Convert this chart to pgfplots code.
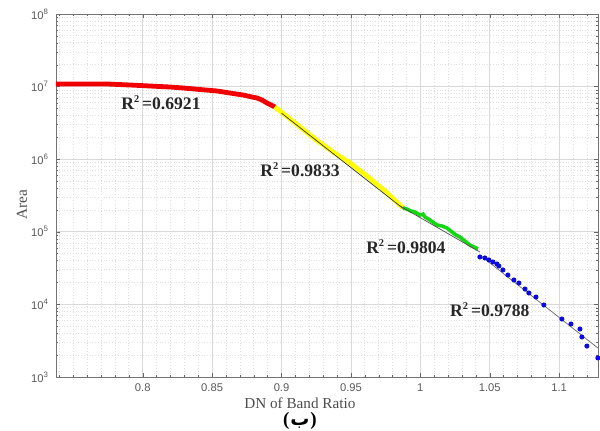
\documentclass[border=0pt]{standalone}
\usepackage{fontspec}
\setmainfont{Liberation Serif}
\setsansfont{Liberation Sans}
\newfontfamily\arabicfont[Script=Arabic]{DejaVu Sans}
\TeXXeTstate=1
\usepackage{pgfplots}
\pgfplotsset{compat=1.18}
\definecolor{segred}{RGB}{240,0,0}
\definecolor{segyellow}{RGB}{255,255,0}
\definecolor{seggreen}{RGB}{20,215,20}
\definecolor{segblue}{RGB}{10,10,225}
\newcommand{\rsq}{R\raisebox{0.85ex}{\fontsize{5.2}{5}\selectfont\bfseries 2}\,=}
\begin{document}
\begin{tikzpicture}
\useasboundingbox (-28pt,-26.5pt) rectangle (272pt,188.5pt);
\begin{semilogyaxis}[
    at={(0,0)}, anchor=south west,
    width=271pt, height=181.5pt, scale only axis,
    xmin=0.7375, xmax=1.128, ymin=1e3, ymax=1e8,
    xtick={0.8,0.85,0.9,0.95,1,1.05,1.1},
    xticklabels={0.8,0.85,0.9,0.95,1,1.05,1.1},
    minor xtick={0.74,0.75,0.76,0.77,0.78,0.79,0.81,0.82,0.83,0.84,0.86,0.87,0.88,0.89,0.91,0.92,0.93,0.94,0.96,0.97,0.98,0.99,1.01,1.02,1.03,1.04,1.06,1.07,1.08,1.09,1.11,1.12},
    ytick={1e3,1e4,1e5,1e6,1e7,1e8},
    yticklabels={10\textsuperscript{3},10\textsuperscript{4},10\textsuperscript{5},10\textsuperscript{6},10\textsuperscript{7},10\textsuperscript{8}},
    grid=both,
    major grid style={black!15, line width=0.4pt},
    minor grid style={black!12, densely dotted, line width=0.4pt},
    tick align=inside,
    axis line style={black!55},
    tick style={black!60},
    major tick length=2pt, minor tick length=1.2pt,
    tick label style={font=\fontsize{5.6}{6}\selectfont\sffamily, text=black!65},
    xlabel={DN of Band Ratio}, ylabel={Area},
    every axis x label/.style={at={(axis description cs:0.45,-0.072)}, anchor=center},
    every axis y label/.style={at={(axis description cs:-0.063,0.474)}, rotate=90, anchor=center},
    label style={font=\fontsize{7.6}{8}\selectfont, text=black!70},
    clip=false,
]
% red segment
\addplot[segred, line width=2.4pt] coordinates {
    (0.7375,1.086e7) (0.7475,1.086e7) (0.7584,1.086e7) (0.7742,1.086e7)
    (0.7908,1.052e7) (0.8052,1.019e7) (0.8196,9.87e6) (0.8290,9.57e6)
    (0.8412,9.12e6) (0.8535,8.70e6) (0.8628,8.16e6) (0.8722,7.66e6)
    (0.8772,7.30e6) (0.8823,6.97e6) (0.8859,6.54e6) (0.8895,5.94e6)
    (0.8924,5.58e6) (0.8952,5.24e6)
};
% yellow segment
\addplot[segyellow, line width=2.4pt] coordinates {
    (0.8952,5.24e6) (0.9025,4.06e6) (0.9133,2.78e6) (0.9241,1.897e6)
    (0.9370,1.257e6) (0.9493,8.87e5) (0.9615,5.87e5) (0.9745,3.65e5)
    (0.9875,2.13e5)
};
% green segment
\addplot[seggreen, line width=1.8pt] coordinates {
    (0.9875,2.13e5) (0.9903,2.06e5) (0.9932,1.934e5) (0.9961,1.874e5)
    (0.9997,1.704e5) (1.0019,1.75e5) (1.0033,1.60e5) (1.0069,1.454e5)
    (1.0120,1.241e5) (1.0156,1.202e5) (1.0192,1.128e5) (1.0228,9.94e4)
    (1.0256,9.03e4) (1.0285,8.48e4) (1.0321,7.47e4) (1.0357,6.58e4)
    (1.0386,6.18e4) (1.0415,5.80e4)
};
% fitted lines
\addplot[black!80, line width=0.35pt] coordinates {(0.9000,4.30e6) (0.9875,2.10e5)};
\addplot[black!70, line width=0.35pt] coordinates {(0.9853,2.27e5) (1.0429,5.27e4)};
\addplot[black!60, line width=0.35pt] coordinates {(1.0429,4.79e4) (1.1279,2.51e3)};
% blue points
\addplot[only marks, mark=*, mark size=1.05pt, segblue] coordinates {
    (1.0429,4.50e4) (1.0465,4.36e4) (1.0494,4.09e4) (1.0523,3.84e4)
    (1.0552,3.60e4) (1.0566,3.38e4) (1.0595,2.98e4) (1.0631,2.54e4)
    (1.0674,2.17e4) (1.0710,1.97e4) (1.0754,1.63e4) (1.0782,1.436e4)
    (1.0833,1.265e4) (1.0890,9.81e3) (1.1020,6.29e3) (1.1085,5.37e3)
    (1.1150,4.58e3) (1.1164,3.56e3) (1.1200,2.67e3) (1.1279,1.83e3)
};
\begin{scope}[every node/.style={font=\fontsize{8.8}{9}\selectfont\bfseries, text=black!85}]
\node at (axis cs:0.8131,5.94e6) {\rsq0.6921};
\node at (axis cs:0.9133,7.10e5) {\rsq0.9833};
\node at (axis cs:0.9896,6.18e4) {\rsq0.9804};
\node at (axis cs:1.0501,8.37e3) {\rsq0.9788};
\end{scope}
\node[font=\fontsize{9.5}{10}\selectfont\bfseries] at (axis description cs:0.45,-0.122)
    {(\kern0.5pt{\arabicfont\bfseries\beginR ب\endR}\kern0.5pt)};
\end{semilogyaxis}
\end{tikzpicture}
\end{document}
